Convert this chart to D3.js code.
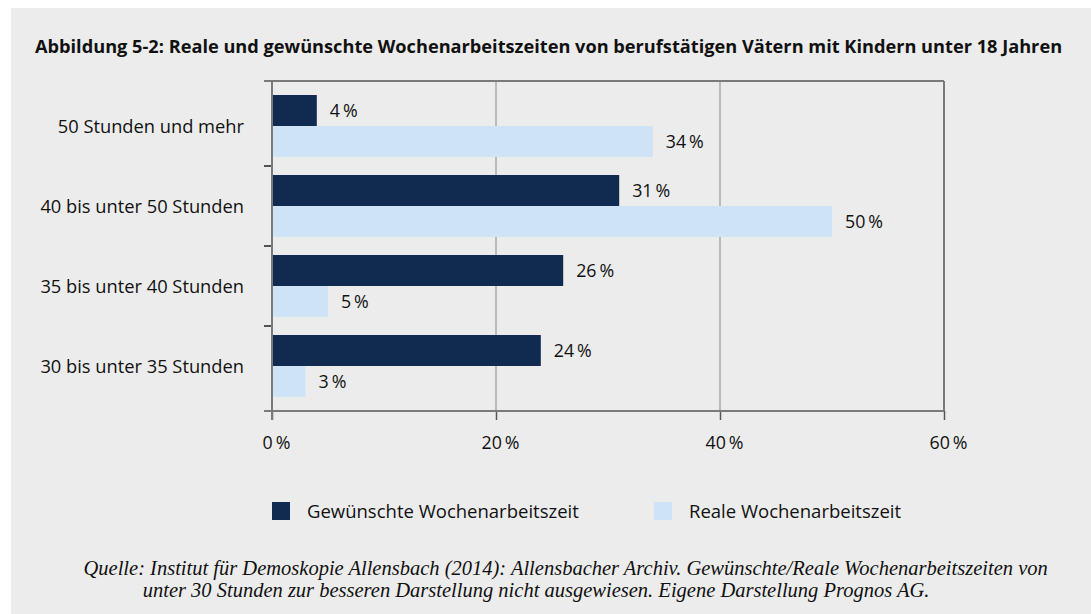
<!DOCTYPE html>
<html><head><meta charset="utf-8">
<script src="https://cdn.jsdelivr.net/npm/d3@7"></script>
<style>
html,body{margin:0;padding:0;background:#fff;}
svg{display:block;}
</style></head>
<body>
<script>
const title = "Abbildung 5-2: Reale und gewünschte Wochenarbeitszeiten von berufstätigen Vätern mit Kindern unter 18 Jahren";
const categories = ["50 Stunden und mehr","40 bis unter 50 Stunden","35 bis unter 40 Stunden","30 bis unter 35 Stunden"];
const seriesNames = ["Gewünschte Wochenarbeitszeit","Reale Wochenarbeitszeit"];
const gewuenscht = [4,31,26,24];
const real = [34,50,5,3];
const xTicks = [0,20,40,60];
const sourceLines = [
 "Quelle: Institut für Demoskopie Allensbach (2014): Allensbacher Archiv. Gewünschte/Reale Wochenarbeitszeiten von",
 "unter 30 Stunden zur besseren Darstellung nicht ausgewiesen. Eigene Darstellung Prognos AG."
];
const colors = ["#112a4f","#cfe3f6"];

const W=1091,H=614;
const svg=d3.select("body").append("svg").attr("width",W).attr("height",H);
svg.append("rect").attr("x",11).attr("y",8).attr("width",W-11).attr("height",H-8).attr("fill","#ececec");

const sans="'Open Sans', sans-serif";
svg.append("text").attr("x",35).attr("y",53)
 .attr("font-family",sans).attr("font-weight",700).attr("font-size",18.2).attr("fill","#111").text(title);

const L=272,R=944,T=81,B=411;
const x=d3.scaleLinear().domain([0,60]).range([L,R]);
const y=d3.scaleBand().domain(categories).range([T,B]).paddingInner(0).paddingOuter(0.0625);
const bw=y.bandwidth();
const sub=d3.scaleBand().domain(seriesNames).range([bw/2-31,bw/2+31]);

const g=svg.append("g");
g.selectAll("line.grid").data(xTicks.filter(d=>d>0&&d<60)).join("line")
 .attr("x1",d=>x(d)).attr("x2",d=>x(d)).attr("y1",T).attr("y2",B)
 .attr("stroke","#ababab").attr("stroke-width",1.5);

const rows=categories.map((c,i)=>({c,vals:[{s:seriesNames[0],v:gewuenscht[i]},{s:seriesNames[1],v:real[i]}]}));
const rg=g.selectAll("g.row").data(rows).join("g").attr("transform",d=>`translate(0,${y(d.c)})`);
rg.selectAll("rect").data(d=>d.vals).join("rect")
 .attr("x",x(0)).attr("y",d=>sub(d.s)).attr("width",d=>x(d.v)-x(0)).attr("height",sub.bandwidth())
 .attr("fill",(d,i)=>colors[i]);
rg.selectAll("text").data(d=>d.vals).join("text")
 .attr("x",d=>x(d.v)+13).attr("y",d=>sub(d.s)+sub.bandwidth()/2+6.3)
 .attr("font-family",sans).attr("font-size",17.8).attr("fill","#111").text(d=>d.v+"\u2009%");

g.append("line").attr("x1",L-8).attr("x2",R).attr("y1",T).attr("y2",T).attr("stroke","#7a7a7a").attr("stroke-width",2);
g.append("line").attr("x1",R).attr("x2",R).attr("y1",T).attr("y2",B).attr("stroke","#7a7a7a").attr("stroke-width",2);

const xa=d3.axisBottom(x).tickValues(xTicks).tickSize(9).tickFormat(d=>d+"\u2009%");
const xg=g.append("g").attr("transform",`translate(0,${B})`).call(xa);
xg.select(".domain").remove();
xg.selectAll(".tick line").attr("stroke","#555").attr("stroke-width",1.5);
xg.selectAll(".tick text").attr("y",38).attr("dy",null).attr("dx",4)
 .attr("font-family",sans).attr("font-size",17.8).attr("fill","#111");
g.append("line").attr("x1",L-8).attr("x2",R).attr("y1",B).attr("y2",B).attr("stroke","#7a7a7a").attr("stroke-width",2);

const bounds=categories.slice(1).map(c=>y(c));
g.selectAll("line.ytick").data(bounds).join("line")
 .attr("x1",L-8).attr("x2",L).attr("y1",d=>d).attr("y2",d=>d).attr("stroke","#222").attr("stroke-width",1.5);
g.append("line").attr("x1",L).attr("x2",L).attr("y1",T).attr("y2",B+9).attr("stroke","#7a7a7a").attr("stroke-width",2);
g.selectAll("text.ylab").data(categories).join("text")
 .attr("x",244).attr("y",d=>y(d)+bw/2+6.5).attr("text-anchor","end")
 .attr("font-family",sans).attr("font-size",18.3).attr("fill","#111").text(d=>d);

const lx=[272,654];
const lg=svg.selectAll("g.leg").data(seriesNames).join("g").attr("transform",(d,i)=>`translate(${lx[i]},502)`);
lg.append("rect").attr("width",18).attr("height",18).attr("fill",(d,i)=>colors[i]);
lg.append("text").attr("x",35).attr("y",15.5)
 .attr("font-family",sans).attr("font-size",18.5).attr("fill","#111").text(d=>d);

svg.selectAll("text.src").data(sourceLines).join("text")
 .attr("x",(d,i)=>i?142.7:83.5).attr("y",(d,i)=>575+i*22)
 .attr("font-family","'Liberation Serif', serif").attr("font-style","italic").attr("font-size",20.5).attr("fill","#111").text(d=>d);
</script>
</body></html>
